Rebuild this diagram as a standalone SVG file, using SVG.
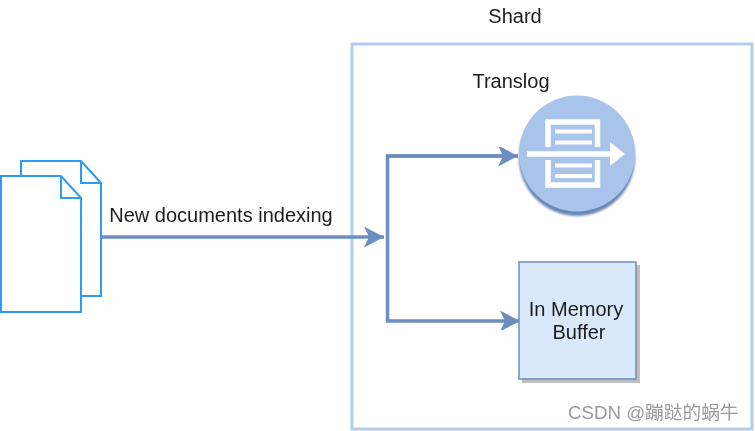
<svg xmlns="http://www.w3.org/2000/svg" width="755" height="431" viewBox="0 0 755 431">
<defs>
<filter id="soft" x="-5%" y="-5%" width="110%" height="110%"><feGaussianBlur stdDeviation="0.5"/></filter>
<filter id="shadow" x="-10%" y="-10%" width="120%" height="120%"><feGaussianBlur stdDeviation="1.2"/></filter>
<marker id="arr" markerUnits="userSpaceOnUse" markerWidth="24" markerHeight="24" refX="20" refY="12" orient="auto"><path d="M0 1.5 L20 12 L0 22.5 L5 12 Z" fill="#6c8ebf"/></marker>
</defs>
<style>
text{font-family:"Liberation Sans",Arial,sans-serif;font-size:20px;fill:#1c1c1c}
.doc{fill:#fff;stroke:#2d9bf5;stroke-width:2}
.fold{fill:none;stroke:#2d9bf5;stroke-width:2}
.conn{fill:none;stroke:#6c8ebf;stroke-width:3.5}
.w{fill:none;stroke:#fff}
</style>
<rect width="755" height="431" fill="#fff"/>
<g id="shard" filter="url(#soft)">
<rect x="352" y="44" width="400" height="385" fill="none" stroke="#b5cbec" stroke-width="3"/>
<text x="515" y="23" text-anchor="middle">Shard</text>
</g>
<g id="documents" filter="url(#soft)">
<path class="doc" d="M21 161H81L101 183V296H21Z"/>
<path class="fold" d="M81 161V183H101"/>
<path class="doc" d="M1 176H61L81 198V312H1Z"/>
<path class="fold" d="M61 176V198H81"/>
</g>
<g id="connectors" filter="url(#soft)">
<path class="conn" d="M102 237H384" stroke-width="3" marker-end="url(#arr)"/>
<path class="conn" d="M518 156H387.500V321H520" marker-end="url(#arr)"/>
<path class="conn" d="M387 156H518" marker-end="url(#arr)"/>
</g>
<g id="label-indexing" filter="url(#soft)"><text x="221" y="222" text-anchor="middle">New documents indexing</text></g>
<g id="translog">
<g filter="url(#soft)"><text x="511" y="88" text-anchor="middle">Translog</text></g>
<circle cx="577" cy="158" r="58" fill="#6a86b4" filter="url(#shadow)"/>
<circle cx="577" cy="153.500" r="58" fill="#a9c4eb" filter="url(#soft)"/>
<g filter="url(#soft)">
<path class="w" stroke-width="5.500" d="M548 147V122H597.500V147M548 160V185H597.500V160"/>
<path class="w" stroke-width="4" d="M555 131.500H592M555 142.500H592M555 165.500H592M555 176H592"/>
<path class="w" stroke-width="5.500" d="M527 154H612"/>
<path d="M610 142L625 154L610 166Z" fill="#fff"/>
</g>
</g>
<g id="buffer">
<rect x="522" y="265" width="118" height="118" fill="#bfbfbf" filter="url(#soft)"/>
<rect x="519" y="262" width="117" height="117" fill="#dae8fc" stroke="#6c8ebf" stroke-width="1.500" filter="url(#soft)"/>
<g filter="url(#soft)">
<text x="576" y="316" text-anchor="middle">In Memory</text>
<text x="579" y="339" text-anchor="middle">Buffer</text>
</g>
</g>
<g id="watermark" filter="url(#soft)"><text x="568" y="419" style="font-family:'Liberation Sans','Noto Sans CJK SC',sans-serif;font-size:18.700px;fill:#9a9a9a">CSDN @蹦跶的蜗牛</text></g>
</svg>
